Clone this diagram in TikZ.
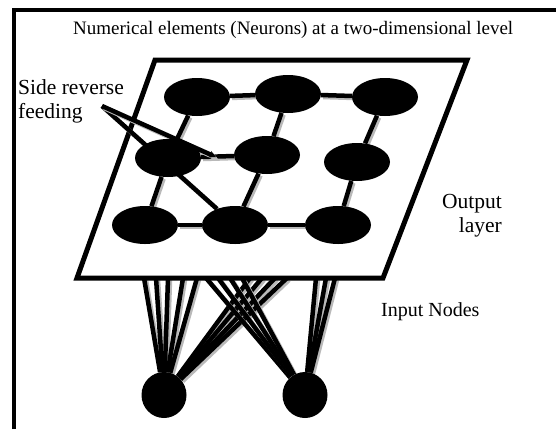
\documentclass[tikz,border=0pt]{standalone}
\usepackage{fontspec}
\setmainfont{Liberation Serif}
\usetikzlibrary{shapes.geometric,arrows.meta}
\pgfdeclarelayer{inlines}
\pgfdeclarelayer{plate}
\pgfdeclarelayer{links}
\pgfsetlayers{inlines,plate,links,main}
\begin{document}
\begin{tikzpicture}[x=1pt,y=-1pt,
  neuron/.style={ellipse,fill=black,minimum width=66pt,minimum height=38pt,inner sep=0pt},
  inputnode/.style={ellipse,fill=black,minimum width=45pt,minimum height=46pt,inner sep=0pt},
  link/.style={line width=4.5pt,black,
    preaction={draw=gray!55,line width=4.5pt,transform canvas={xshift=2pt,yshift=-2pt}}},
  txt/.style={inner sep=0pt,font=\fontsize{21.5}{24}\selectfont}
]
\useasboundingbox (0,0) rectangle (556,429);
% frame
\draw[line width=3.5pt] (14,429) -- (14,10) -- (556,10);
% title
\node[inner sep=0pt,anchor=base west,font=\fontsize{19}{21}\selectfont] (title) at (73,34) {Numerical elements (Neurons) at a two-dimensional level};
% plate
\begin{pgfonlayer}{plate}
\draw[line width=5pt,fill=white,miter limit=10] (155,60) -- (467,60) -- (383,278) -- (77,278) -- cycle;
\end{pgfonlayer}
% neurons
\node[neuron] (n11) at (197,97) {};
\node[neuron] (n12) at (288,94) {};
\node[neuron] (n13) at (385,97) {};
\node[neuron] (n21) at (168,158) {};
\node[neuron] (n22) at (267,155) {};
\node[neuron] (n23) at (357,162) {};
\node[neuron] (n31) at (145,225) {};
\node[neuron] (n32) at (235,225) {};
\node[neuron] (n33) at (338,225) {};
% input nodes
\node[inputnode] (in1) at (164,395) {};
\node[inputnode] (in2) at (305,395) {};
% labels
\node[txt,align=left,anchor=north west] (side) at (18,79) {Side reverse\\feeding};
\node[txt,align=right,anchor=north east] (out) at (502,194) {Output\\layer};
\node[inner sep=0pt,font=\fontsize{20}{24}\selectfont,anchor=base west] (inp) at (381,316) {Input Nodes};
\coordinate (sa) at (102,106);
\coordinate (sb) at (216,157);
% links
\begin{pgfonlayer}{links}
\draw[link] (n11) -- (n12);
\draw[link] (n12) -- (n13);
\draw[link] (n21) -- (n22);
\draw[link] (n31) -- (n32);
\draw[link] (n32) -- (n33);
\draw[link] (n11) -- (n21);
\draw[link] (n21) -- (n31);
\draw[link] (n12) -- (n22);
\draw[link] (n22) -- (n32);
\draw[link] (n13) -- (n23);
\draw[link] (n23) -- (n33);
\draw[link] (sa) -- (n32);
\draw[link,-{Stealth[length=7pt,width=7pt]}] (sa) -- (sb);
\end{pgfonlayer}
% input lines
\begin{pgfonlayer}{inlines}
\foreach \x [count=\i] in {144,156,168,183,197,250,262,275,287} {
  \coordinate (a\i) at (\x,278);
  \draw[link] (in1) -- (a\i);
}
\foreach \x [count=\i] in {206,218,230,242,316,326,335} {
  \coordinate (b\i) at (\x,278);
  \draw[link] (in2) -- (b\i);
}
\end{pgfonlayer}
\end{tikzpicture}
\end{document}
